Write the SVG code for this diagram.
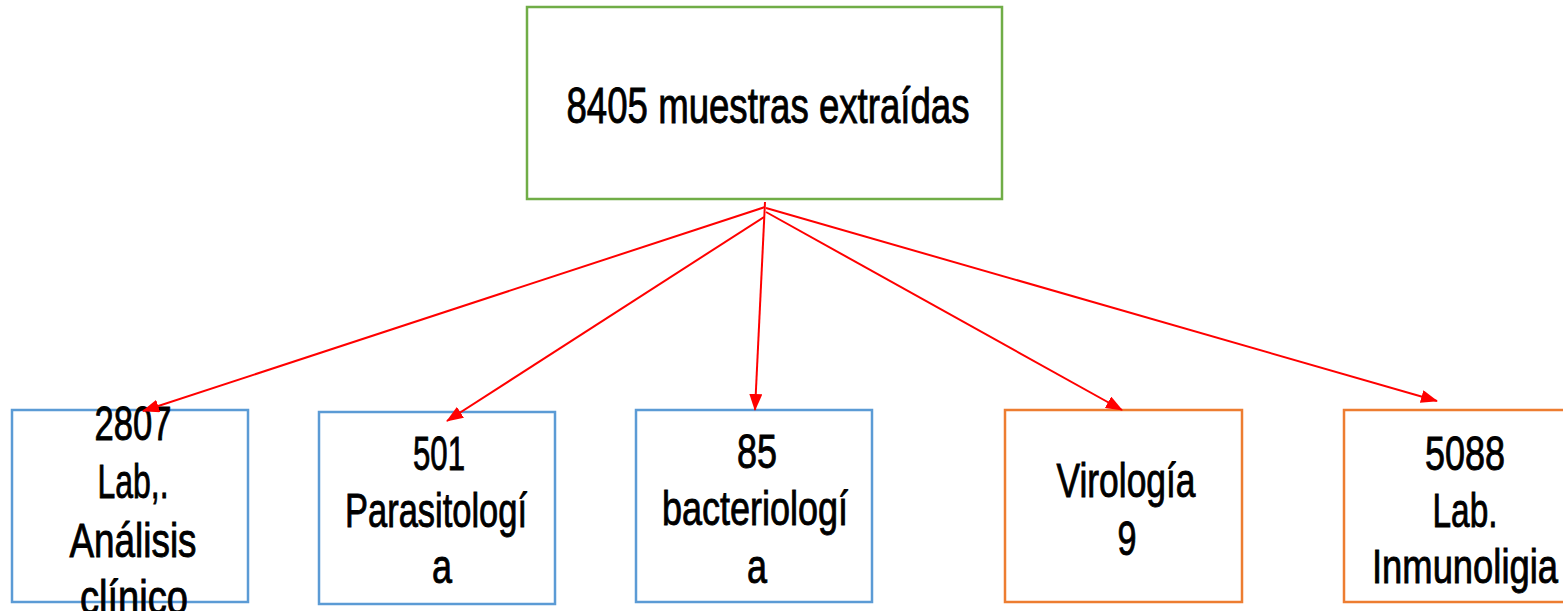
<svg xmlns="http://www.w3.org/2000/svg" width="1563" height="611" viewBox="0 0 1563 611">
<style>
.bg{fill:#ffffff}
.box{fill:#ffffff;stroke-width:2.5}
.green{stroke:#70AD47}
.blue{stroke:#5B9BD5}
.orange{stroke:#ED7D31}
text{font-family:"Liberation Sans",Arial,sans-serif;font-size:48px;fill:#000000;stroke:#000000;stroke-width:0.9;text-anchor:middle}
.title{font-size:50px}
.conn line{stroke:#FF0000;stroke-width:2;fill:none}
</style>
<defs>
<marker id="ah" markerWidth="17" markerHeight="13" refX="16" refY="6.5" orient="auto" markerUnits="userSpaceOnUse">
<path d="M0,0 L17,6.5 L0,13 Z" fill="#FF0000"/>
</marker>
</defs>
<rect class="bg" x="0" y="0" width="1563" height="611"/>
<g id="node-top">
<rect class="box green" x="527" y="7" width="475" height="192"/>
<text class="title" x="768" y="123" textLength="403" lengthAdjust="spacingAndGlyphs">8405 muestras extraídas</text>
</g>
<g id="node-clinico">
<rect class="box blue" x="12" y="410" width="236" height="192"/>
<text x="133" y="440" textLength="77" lengthAdjust="spacingAndGlyphs">2807</text>
<text x="133" y="498" textLength="71" lengthAdjust="spacingAndGlyphs">Lab,.</text>
<text x="133" y="557" textLength="127" lengthAdjust="spacingAndGlyphs">Análisis</text>
<text x="134" y="614" textLength="108" lengthAdjust="spacingAndGlyphs">clínico</text>
</g>
<g id="node-parasitologia">
<rect class="box blue" x="319" y="412" width="236" height="192"/>
<text x="439" y="470" textLength="52" lengthAdjust="spacingAndGlyphs">501</text>
<text x="436" y="527" textLength="182" lengthAdjust="spacingAndGlyphs">Parasitologí</text>
<text x="442" y="583" textLength="20" lengthAdjust="spacingAndGlyphs">a</text>
</g>
<g id="node-bacteriologia">
<rect class="box blue" x="636" y="410" width="236" height="192"/>
<text x="757" y="468" textLength="40" lengthAdjust="spacingAndGlyphs">85</text>
<text x="755" y="525" textLength="186" lengthAdjust="spacingAndGlyphs">bacteriologí</text>
<text x="757" y="583" textLength="20" lengthAdjust="spacingAndGlyphs">a</text>
</g>
<g id="node-virologia">
<rect class="box orange" x="1005" y="410" width="237" height="192"/>
<text x="1126" y="497" textLength="139" lengthAdjust="spacingAndGlyphs">Virología</text>
<text x="1127" y="555" textLength="19" lengthAdjust="spacingAndGlyphs">9</text>
</g>
<g id="node-inmunologia">
<rect class="box orange" x="1344" y="410" width="237" height="192"/>
<text x="1465" y="470" textLength="80" lengthAdjust="spacingAndGlyphs">5088</text>
<text x="1465" y="527" textLength="65" lengthAdjust="spacingAndGlyphs">Lab.</text>
<text x="1465" y="583" textLength="186" lengthAdjust="spacingAndGlyphs">Inmunoligia</text>
</g>
<g id="connectors" class="conn">
<line x1="765" y1="207" x2="143" y2="411" marker-end="url(#ah)"/>
<line x1="764" y1="217" x2="447" y2="421" marker-end="url(#ah)"/>
<line x1="765" y1="202" x2="755" y2="410" marker-end="url(#ah)"/>
<line x1="766" y1="212" x2="1122" y2="410" marker-end="url(#ah)"/>
<line x1="766" y1="208" x2="1437" y2="401" marker-end="url(#ah)"/>
</g>
</svg>
